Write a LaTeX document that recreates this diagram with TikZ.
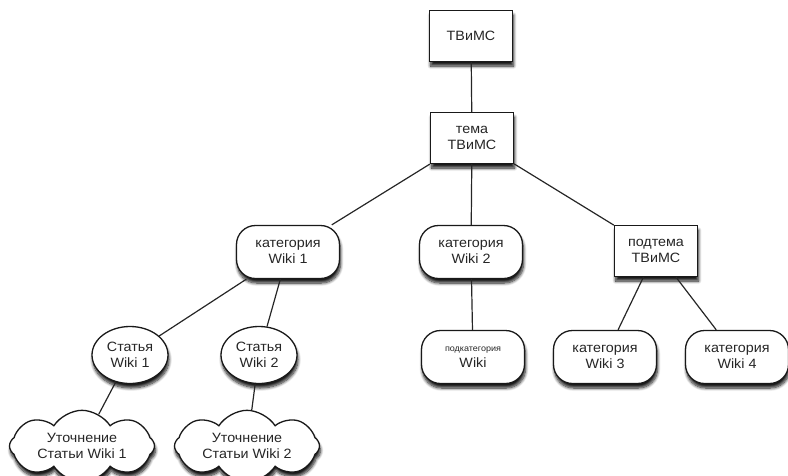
\documentclass[tikz,border=0pt]{standalone}
\usepackage{fontspec}
\setmainfont{Liberation Sans}[FakeStretch=1.06]
\usetikzlibrary{shapes.geometric,shapes.symbols,shadows.blur}
\begin{document}
\begin{tikzpicture}[x=1pt,y=1pt,
  base/.style={draw=black!90, line width=1.3pt, fill=white, align=center, text=black!85,
     font=\fontsize{13.5}{15.5}\selectfont, inner sep=2pt,
     blur shadow={shadow xshift=1pt, shadow yshift=-4.5pt, shadow blur radius=3pt, shadow blur steps=8, shadow opacity=90}},
  boxnode/.style={base, rectangle, minimum width=83pt, minimum height=51pt},
  termnode/.style={base, rectangle, rounded corners=19pt, minimum width=103pt, minimum height=53pt},
  ellnode/.style={base, ellipse, minimum width=76pt, minimum height=57pt, inner sep=0pt},
  cloudnode/.style={base, cloud, cloud puffs=8, cloud puff arc=115, aspect=2.6, minimum width=145pt, minimum height=56pt, inner sep=0pt},
  conn/.style={draw=black!85, line width=1.2pt}]
\useasboundingbox (0,0) rectangle (788,-475);
\node[boxnode] (tvims) at (471,-36) {ТВиМС};
\node[boxnode] (tema) at (472,-138) {тема\\ТВиМС};
\node[termnode] (kat1) at (288,-252) {категория\\Wiki 1};
\node[termnode] (kat2) at (471,-252) {категория\\Wiki 2};
\node[boxnode] (podtema) at (656,-251) {подтема\\ТВиМС};
\node[ellnode] (st1) at (130,-355) {Статья\\Wiki 1};
\node[ellnode] (st2) at (259,-355) {Статья\\Wiki 2};
\node[cloudnode] (ut1) at (82,-446) {Уточнение\\Статьи Wiki 1};
\node[cloudnode] (ut2) at (247,-446) {Уточнение\\Статьи Wiki 2};
\node[termnode] (podkat) at (473,-357) {{\fontsize{8.5}{11}\selectfont подкатегория}\\Wiki};
\node[termnode] (kat3) at (605,-357) {категория\\Wiki 3};
\node[termnode] (kat4) at (737,-357) {категория\\Wiki 4};
\draw[conn] (tvims) -- (tema);
\draw[conn] (tema) -- (kat1);
\draw[conn] (tema) -- (kat2);
\draw[conn] (tema) -- (podtema);
\draw[conn] (kat1) -- (st1);
\draw[conn] (kat1) -- (st2);
\draw[conn] (st1) -- (ut1);
\draw[conn] (st2) -- (ut2);
\draw[conn] (kat2) -- (podkat);
\draw[conn] (podtema) -- (kat3);
\draw[conn] (podtema) -- (kat4);
\end{tikzpicture}
\end{document}
